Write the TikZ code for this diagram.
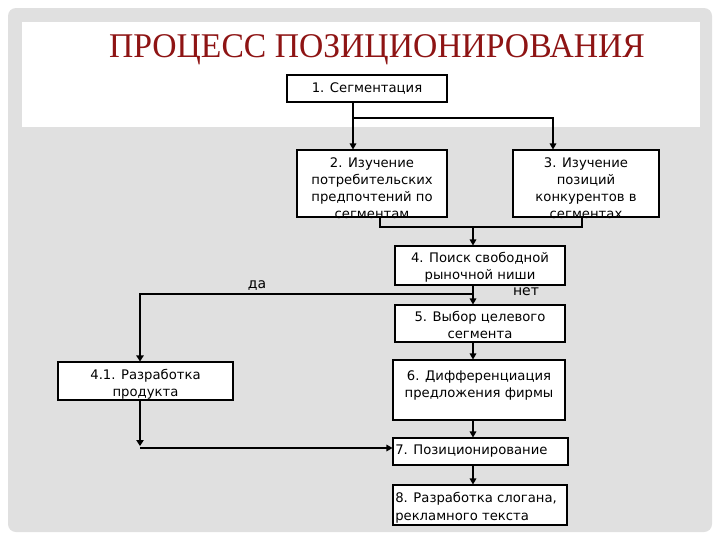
\documentclass[tikz,border=0pt]{standalone}
\usepackage{fontspec}
\setmainfont{DejaVu Sans}
\newfontfamily\titlefont{Liberation Serif}
\usetikzlibrary{arrows.meta}
\definecolor{slidegray}{HTML}{E0E0E0}
\definecolor{titlered}{HTML}{8E1414}
\begin{document}
\begin{tikzpicture}[x=0.75pt,y=-0.75pt,
  boxst/.style={draw=black,fill=white,line width=0.8pt,inner sep=0pt},
  txt/.style={font=\fontsize{9.9}{12.9}\selectfont,inner sep=0pt,align=center,anchor=north},
  ltxt/.style={font=\fontsize{9.9}{13.2}\selectfont,inner sep=0pt,align=left,anchor=north west},
  conn/.style={line width=0.8pt},
  arr/.style={line width=0.8pt,-{Triangle[width=5pt,length=4.5pt]}},
  thickarr/.style={line width=1.4pt,-{Triangle[width=5.5pt,length=4.5pt]}}]
\useasboundingbox (0,0) rectangle (720,540);
\fill[white] (0,0) rectangle (720,540);
\fill[slidegray,rounded corners=6pt] (8,8) rectangle (712,532);
\fill[white] (22,22) rectangle (700,127);
\node[font=\titlefont\fontsize{26}{26}\selectfont,text=titlered,anchor=base] (title) at (377,57) {\scalebox{0.97}[1]{ПРОЦЕСС ПОЗИЦИОНИРОВАНИЯ}};
% boxes
\node[boxst,minimum width=120pt,minimum height=20.25pt] (b1) at (367,88.5) {};
\node[txt,anchor=center] (t1) at (b1) {1. Сегментация};
\node[boxst,minimum width=112.5pt,minimum height=50.25pt] (b2) at (372,183.5) {};
\node[txt] (t2) at (372,157) {2. Изучение\\потребительских\\предпочтений по\\сегментам};
\node[boxst,minimum width=109.5pt,minimum height=50.25pt] (b3) at (586,183.5) {};
\node[txt] (t3) at (586,157) {3. Изучение\\позиций\\конкурентов в\\сегментах};
\node[boxst,minimum width=127.5pt,minimum height=29.25pt] (b4) at (480,265.5) {};
\node[txt] (t4) at (480,252) {4. Поиск свободной\\рыночной ниши};
\node[boxst,minimum width=127.5pt,minimum height=27.75pt] (b5) at (480,323.5) {};
\node[txt] (t5) at (480,311) {5. Выбор целевого\\сегмента};
\node[boxst,minimum width=129pt,minimum height=45pt] (b6) at (479,390) {};
\node[txt] (t6) at (479,370) {6. Дифференциация\\предложения фирмы};
\node[boxst,minimum width=131.25pt,minimum height=20.25pt] (b7) at (480.5,451.5) {};
\node[ltxt,anchor=west] (t7) at (395,451.5) {7. Позиционирование};
\node[boxst,minimum width=130.5pt,minimum height=30pt] (b8) at (480,505) {};
\node[ltxt] (t8) at (395,492) {8. Разработка слогана,\\рекламного текста};
\node[boxst,minimum width=131.25pt,minimum height=28.5pt] (b41) at (145.5,381) {};
\node[txt] (t41) at (145.5,369) {4.1. Разработка\\продукта};
% connectors
\coordinate (s1) at (353,118);
\draw[arr] (b1.south -| s1) -- (b2.north -| s1);
\draw[arr] (s1) -- (553,118) -- (b3.north -| 553,0);
\coordinate (j2) at (473,227);
\draw[conn] (b2.south -| 380,0) |- (j2) -| (b3.south -| 582,0);
\draw[arr] (j2) -- (b4.north -| j2);
\coordinate (j4) at (473,294);
\draw[arr] (b4.south -| j4) -- (b5.north -| j4);
\draw[thickarr] (j4) -| (b41.north -| 140,0);
\node[font=\fontsize{10.5}{12}\selectfont,inner sep=0pt] (da) at (257,286) {да};
\node[font=\fontsize{10.5}{12}\selectfont,inner sep=0pt] (net) at (526,292) {нет};
\draw[arr] (b5.south -| j4) -- (b6.north -| j4);
\draw[arr] (b6.south -| j4) -- (b7.north -| j4);
\draw[arr] (b7.south -| j4) -- (b8.north -| j4);
\coordinate (e41) at (140,446);
\draw[thickarr] (b41.south -| e41) -- (e41);
\coordinate (h7) at (140,448);
\draw[arr] (h7) -- (b7.west |- h7);
\end{tikzpicture}
\end{document}
